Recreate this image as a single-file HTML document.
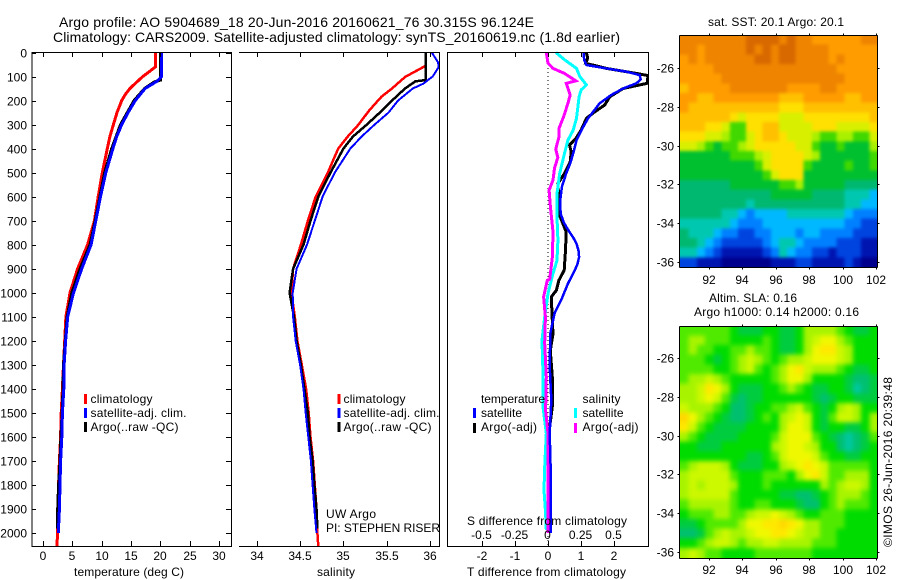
<!DOCTYPE html>
<html lang="en">
<head>
<meta charset="utf-8">
<title>Argo profile</title>
<style>
html,body{margin:0;padding:0;background:#fff;}
svg{display:block;}
text{font-family:"Liberation Sans",sans-serif;font-size:12px;fill:#000;}
.big{font-size:14px;}
</style>
</head>
<body>
<svg id="chart" xmlns="http://www.w3.org/2000/svg" width="900" height="580" viewBox="0 0 900 580">
<defs>
<clipPath id="clipT"><rect x="32" y="40" width="199" height="506"/></clipPath>
<clipPath id="clipS"><rect x="239" y="40" width="200" height="506"/></clipPath>
<clipPath id="clipD"><rect x="447" y="40" width="201" height="506"/></clipPath>
<clipPath id="clipSst"><rect x="680" y="35" width="198" height="232"/></clipPath>
<clipPath id="clipSla"><rect x="680" y="326" width="198" height="232"/></clipPath>
<filter id="blurSst" filterUnits="userSpaceOnUse" x="640" y="0" width="260" height="300" color-interpolation-filters="sRGB"><feGaussianBlur stdDeviation="1.5"/></filter>
<filter id="blurSla" filterUnits="userSpaceOnUse" x="640" y="290" width="260" height="290" color-interpolation-filters="sRGB"><feGaussianBlur stdDeviation="2.5"/></filter>
</defs>
<text class="big" x="59" y="27" textLength="475">Argo profile: AO 5904689_18 20-Jun-2016 20160621_76 30.315S 96.124E</text>
<text class="big" x="53" y="42" textLength="567">Climatology: CARS2009. Satellite-adjusted climatology: synTS_20160619.nc (1.8d earlier)</text>
<text x="708" y="26" textLength="136">sat. SST: 20.1 Argo: 20.1</text>
<text x="709" y="302" textLength="88">Altim. SLA: 0.16</text>
<text x="694" y="316" textLength="165">Argo h1000: 0.14 h2000: 0.16</text>
<text transform="translate(892,547) rotate(-90)" textLength="170">©IMOS 26-Jun-2016 20:39:48</text>
<text x="74" y="576" textLength="110">temperature (deg C)</text>
<text x="317" y="576" textLength="38">salinity</text>
<text x="467" y="576" textLength="159">T difference from climatology</text>
<g id="maps"></g>
<g id="curves"></g>
<g id="axes"></g>
<text x="467" y="525" textLength="160">S difference from climatology</text>
<text x="326" y="518" textLength="50">UW Argo</text>
<text x="326" y="532" textLength="114">PI: STEPHEN RISER</text>
<g id="legends">
<rect x="84" y="394" width="3" height="10" fill="#f00"/>
<rect x="84" y="408" width="3" height="10" fill="#00f"/>
<rect x="84" y="422" width="3" height="10" fill="#000"/>
<text x="90.5" y="403" textLength="62">climatology</text>
<text x="90.5" y="417" textLength="96">satellite-adj. clim.</text>
<text x="90.5" y="431" textLength="88">Argo(..raw -QC)</text>
<rect x="337.5" y="394" width="3" height="10" fill="#f00"/>
<rect x="337.5" y="408" width="3" height="10" fill="#00f"/>
<rect x="337.5" y="422" width="3" height="10" fill="#000"/>
<text x="343.5" y="403" textLength="62">climatology</text>
<text x="343.5" y="417" textLength="96">satellite-adj. clim.</text>
<text x="343.5" y="431" textLength="88">Argo(..raw -QC)</text>
<text x="481" y="403" textLength="64">temperature</text>
<text x="582.5" y="403" textLength="38">salinity</text>
<rect x="473" y="408" width="3" height="10" fill="#00f"/>
<rect x="473" y="423" width="3" height="10" fill="#000"/>
<rect x="574" y="408" width="3" height="10" fill="#0ff"/>
<rect x="574" y="423" width="3" height="10" fill="#f0f"/>
<text x="481" y="417" textLength="41">satellite</text>
<text x="481" y="431" textLength="56">Argo(-adj)</text>
<text x="582.5" y="417" textLength="41">satellite</text>
<text x="582.5" y="431" textLength="56">Argo(-adj)</text>
</g>
</svg>
<script>
// ---- tick labels ----
const depthTicks = [0,100,200,300,400,500,600,700,800,900,1000,1100,1200,1300,1400,1500,1600,1700,1800,1900,2000];
const tempTicks = [0,5,10,15,20,25,30];
const salTicks = [34,34.5,35,35.5,36];
const tDiffTicks = [-2,-1,0,1,2];
const sDiffTicks = [-0.5,-0.25,0,0.25,0.5];
const lonTicks = [92,94,96,98,100,102];
const latTicks = [-26,-28,-30,-32,-34,-36];

// ---- temperature profiles ----
const tempClimDepth = [0,59,80,100,125,150,175,200,250,300,350,400,500,600,700,800,900,1000,1100,1200,1300,1400,1500,1600,1700,1800,1900,2000,2055];
const tempClim = [19.2,19.2,18.1,17.0,15.9,14.8,14.0,13.4,12.6,12.0,11.4,10.95,10.1,9.4,8.75,7.6,5.9,4.6,3.9,3.7,3.5,3.3,3.1,3.0,2.8,2.65,2.55,2.45,2.4];
const tempArgoDepth = [0,115,122,150,200,300,400,500,600,700,800,900,1000,1100,1200,1300,1400,1500,1600,1700,1800,1900,1980];
const tempArgo = [20.0,20.0,19.0,17.3,15.5,13.2,11.7,10.5,9.7,8.9,8.0,6.3,4.9,4.1,3.8,3.5,3.4,3.25,3.05,2.9,2.65,2.5,2.5];
const tempSatDepth = [0,100,120,150,200,250,300,350,400,500,600,700,800,900,1000,1100,1200,1300,1400,1500,1600,1700,1800,1900,2000];
const tempSat = [20.2,20.2,19.4,17.4,15.7,14.5,13.4,12.55,11.9,10.7,9.8,9.0,8.2,6.6,5.2,4.2,3.85,3.6,3.55,3.3,3.2,3.0,2.9,2.8,2.6];

// ---- salinity profiles ----
const salClimDepth = [0,55,102,150,184,240,302,350,400,500,600,700,800,900,1000,1100,1200,1300,1400,1500,1600,1700,1800,1900,2000,2055];
const salClim = [35.95,35.95,35.71,35.56,35.44,35.3,35.17,35.05,34.94,34.82,34.68,34.59,34.51,34.42,34.40,34.44,34.47,34.52,34.57,34.6,34.62,34.65,34.67,34.69,34.70,34.71];
const salArgoDepth = [0,115,120,150,200,250,300,350,400,500,600,700,800,900,1000,1100,1200,1300,1400,1500,1600,1700,1800,1900,1980];
const salArgo = [35.95,35.95,35.83,35.71,35.56,35.42,35.27,35.11,35.0,34.85,34.71,34.62,34.54,34.42,34.38,34.43,34.46,34.51,34.55,34.59,34.61,34.645,34.665,34.69,34.7];
const salSatDepth = [0,40,60,100,130,150,200,250,300,350,400,500,600,700,800,900,1000,1100,1200,1300,1400,1500,1600,1700,1800,1900,2000];
const salSat = [36.02,36.09,36.1,36.03,35.92,35.8,35.63,35.52,35.36,35.21,35.08,34.9,34.76,34.67,34.58,34.46,34.415,34.42,34.45,34.5,34.54,34.565,34.595,34.625,34.645,34.665,34.69];

// ---- difference profiles (T in deg C, S in psu) ----
const dTSatDepth = [0,30,52,66,80,94,112,128,150,177,212,274,316,365,420,462,503,559,615,670,705,725,747,770,795,825,851,880,906,962,1030,1085,1169,1308,1446,1585,1724,1863,2000];
const dTSat = [1.08,1.09,1.16,1.76,2.37,2.77,2.8,2.67,2.27,1.91,1.56,1.21,1.04,0.86,0.76,0.67,0.55,0.42,0.37,0.38,0.47,0.55,0.65,0.76,0.86,0.92,0.94,0.89,0.81,0.6,0.4,0.2,0.07,0.05,0.1,0.05,0.08,0.08,0.08];
const dTArgoDepth = [0,24,45,66,87,96,128,150,184,219,247,274,323,358,385,413,455,503,545,615,684,747,823,906,948,990,1017,1115,1170,1240,1350,1474,1558,2000];
const dTArgo = [1.16,1.2,1.14,1.76,2.67,3.02,3.0,2.27,1.87,1.71,1.41,1.16,1.0,0.84,0.65,0.7,0.67,0.5,0.3,0.33,0.37,0.55,0.53,0.49,0.33,0.25,0.1,0.13,0.15,0.07,0.13,0.13,0.05,0.05];
const dSSatDepth = [0,30,66,100,135,156,184,274,323,365,420,503,587,684,781,865,920,1003,1100,1197,1336,1474,1585,1724,1821,1918,1988];
const dSSat = [0.06,0.125,0.215,0.24,0.29,0.25,0.235,0.215,0.19,0.15,0.125,0.088,0.068,0.068,0.075,0.068,0.038,0,-0.025,-0.045,-0.038,-0.038,-0.013,-0.025,-0.03,-0.018,-0.013];
const dSArgoDepth = [0,45,66,87,118,128,177,212,267,316,351,403,437,479,531,573,642,746,850,944,948,1017,1100,1210,1350,1490,1585,2000];
const dSArgo = [-0.013,0,0.038,0.125,0.21,0.138,0.168,0.15,0.118,0.083,0.083,0.058,0.075,0.05,0.038,0.008,0.018,0.038,0.033,0.013,-0.005,-0.033,-0.02,-0.025,-0.013,-0.018,0,0];

// ---- map grids (colour-level per cell, rows north to south) ----
const sstLevels = [
[14,14,14,14,14,14,14,14,15,15,15,15,14,15,14,14,13,13,13,13,13,13,14,14],
[14,14,13,14,14,14,14,14,15,14,15,14,15,15,14,14,14,14,13,13,13,13,13,13],
[13,14,13,14,14,14,14,14,14,15,15,14,15,15,14,14,14,14,13,14,13,13,13,13],
[13,13,13,13,14,14,14,14,14,14,14,14,14,14,14,14,14,14,14,13,13,13,13,13],
[13,13,13,13,13,14,14,14,14,14,14,14,14,14,14,14,14,14,14,14,13,13,13,13],
[12,13,13,13,13,13,14,14,14,14,14,14,14,13,13,13,13,14,14,13,13,13,13,13],
[13,13,12,12,13,13,13,13,13,13,13,13,12,12,12,13,13,13,13,13,12,12,13,13],
[13,12,12,12,12,12,12,12,12,12,12,12,11,11,11,12,12,12,12,12,12,12,12,12],
[12,12,12,12,12,12,11,10,11,11,11,11,10,10,10,11,11,11,11,11,11,11,11,12],
[12,12,12,11,11,10,8,8,11,11,12,12,10,10,10,10,11,11,11,10,10,10,10,11],
[11,11,11,10,10,9,8,8,10,11,12,12,11,10,10,10,9,8,8,9,9,8,8,10],
[10,10,9,8,7,8,8,9,10,11,11,11,11,11,10,10,8,7,7,8,7,7,7,9],
[7,7,7,7,7,7,8,8,8,9,10,11,11,11,11,10,9,7,7,7,7,7,7,8],
[7,7,7,7,7,7,7,7,7,8,10,11,11,11,11,8,7,7,7,7,8,7,7,8],
[7,7,7,7,7,7,7,7,7,7,8,10,11,11,11,7,7,7,7,7,7,7,7,7],
[6,6,6,6,6,6,7,7,7,7,7,7,8,8,9,7,7,7,7,7,6,6,6,6],
[6,6,6,6,6,6,6,6,6,6,6,7,7,7,7,7,6,6,6,6,5,5,5,4],
[6,6,6,6,6,6,6,6,5,6,6,6,6,6,6,6,6,6,6,6,5,5,4,4],
[6,6,6,6,6,5,5,4,3,4,4,4,4,5,5,5,5,5,5,5,4,3,3,3],
[5,5,5,5,5,5,4,3,3,3,4,4,4,4,4,4,4,4,4,4,3,3,2,2],
[6,5,5,5,4,3,3,2,2,3,3,4,4,4,3,4,4,3,3,3,3,2,2,2],
[6,6,5,4,3,2,2,2,2,2,3,4,5,5,4,3,3,3,3,2,2,2,1,1],
[5,5,4,3,2,1,1,1,1,1,2,3,5,4,3,3,2,2,1,2,2,2,1,1],
[2,2,1,1,1,0,0,0,0,0,0,1,1,1,2,2,1,1,1,1,2,1,0,0]
];
const slaLevels = [
[4,4,4,4,4,4,3,2,2,2,3,3,2,2,3,5,5,5,5,4,3,2,2,3],
[4,5,5,4,4,4,3,3,3,3,4,3,2,2,3,5,6,7,7,5,4,3,3,3],
[4,5,4,4,3,3,4,4,5,4,4,3,2,2,3,5,7,8,8,6,5,3,3,3],
[4,4,4,3,2,3,4,5,6,5,4,3,4,5,5,6,7,7,7,6,5,3,3,3],
[4,4,4,4,3,3,4,5,6,4,3,4,5,7,8,6,5,5,5,4,3,2,2,3],
[4,5,5,6,5,4,3,3,3,3,3,4,5,7,7,5,3,3,3,3,2,1,1,2],
[5,5,6,8,7,5,3,2,2,2,3,3,4,5,4,3,2,2,3,3,2,0,1,2],
[5,5,6,7,6,4,2,1,2,2,3,3,3,3,3,3,2,1,2,3,3,2,2,2],
[6,5,5,5,4,3,1,1,2,3,3,4,4,5,6,4,3,2,3,5,6,5,3,3],
[9,7,5,4,3,2,1,1,2,3,4,3,5,6,7,6,3,2,4,6,6,5,3,5],
[8,6,4,3,2,2,2,2,3,3,3,3,5,7,7,6,3,2,3,3,2,2,3,5],
[5,4,3,2,2,2,2,3,3,3,3,4,6,7,7,7,4,3,2,1,0,1,2,4],
[3,3,2,2,2,3,3,3,3,3,3,5,6,7,7,6,5,3,3,1,0,1,2,3],
[3,3,3,3,3,3,3,3,2,2,3,4,6,7,7,7,6,4,3,3,2,2,3,3],
[4,5,6,6,6,5,3,2,2,2,3,3,5,6,7,8,7,6,4,4,4,4,4,3],
[5,6,6,6,6,6,4,3,3,3,4,4,4,3,5,7,8,6,4,4,5,5,5,3],
[5,6,5,6,6,6,5,3,3,3,4,3,3,3,3,3,3,5,4,5,6,6,5,3],
[5,6,6,6,6,6,4,3,3,3,3,3,2,2,1,1,2,3,4,5,5,5,4,3],
[4,5,5,5,5,5,4,3,3,4,4,3,3,3,2,1,1,3,4,5,4,4,4,3],
[3,4,4,4,5,5,4,4,5,6,6,7,6,5,4,3,3,4,4,4,3,3,3,3],
[2,2,3,4,4,4,4,5,7,7,8,8,9,8,7,5,5,4,4,4,3,3,3,3],
[1,1,2,4,5,6,5,5,6,7,7,8,8,7,6,5,5,4,4,3,3,3,3,3],
[3,3,4,5,6,6,5,4,5,5,6,6,5,5,5,5,4,4,4,3,3,3,3,3],
[5,6,5,4,4,3,3,3,3,4,4,4,4,4,4,4,3,3,3,3,3,3,3,3]
];
const sstPalette = ["#00008c","#0014b0","#0044e0","#0080ff","#00b8ff","#00c8b0","#00b870","#00c030","#40d800","#a8f000","#d8f000","#ffe000","#ffc000","#ff9c00","#ee8400","#d86800"];
const slaPalette = ["#00c8a0","#00c070","#00cc40","#00dc00","#50ea00","#a8f400","#ccf800","#f0f800","#ffe800","#ffd800"];

const SVGNS = "http://www.w3.org/2000/svg";
const axesG = document.getElementById("axes");
const curvesG = document.getElementById("curves");
const mapsG = document.getElementById("maps");

function create(tag, parent, attrs) {
  const el = document.createElementNS(SVGNS, tag);
  for (const k in attrs) el.setAttribute(k, attrs[k]);
  parent.appendChild(el);
  return el;
}

// axis functions
const yDepth = d => 52.5 + 0.2403 * d;
const xTemp = t => 43 + 5.87 * t;
const xSal = s => 256.7 + 86.7 * (s - 34);
const xDT = t => 548 + 33.1 * t;
const xDS = s => 548 + 132.4 * s;
const xLon = lon => 708.7 + 16.73 * (lon - 92);
const yLatTop = lat => 68.3 + 19.33 * (-26 - lat);
const yLatBot = lat => 358.3 + 19.33 * (-26 - lat);

function drawCurve(depths, values, xFn, color, width, clip, name) {
  const pts = depths.map((d, i) => xFn(values[i]).toFixed(1) + "," + yDepth(d).toFixed(1)).join(" ");
  const line = create("polyline", curvesG, {points: pts, fill: "none", stroke: color, "stroke-width": width, "clip-path": "url(#" + clip + ")", "shape-rendering": "crispEdges", "stroke-linejoin": "miter"});
  
  
}

function axisLine(x1, y1, x2, y2, name) {
  const l = create("line", axesG, {x1: x1, y1: y1, x2: x2, y2: y2, stroke: "#000", "stroke-width": 1, "shape-rendering": "crispEdges"});
  
  
}

function label(x, y, str, anchor, name) {
  const t = create("text", axesG, {x: x, y: y, "text-anchor": anchor});
  t.textContent = str;
  
  
}

function drawMap(levels, palette, left, right, top, bottom, clip, filter, name) {
  const rows = levels.length, cols = levels[0].length;
  const w = (right - left) / cols, h = (bottom - top) / rows;
  const outer = create("g", mapsG, {"clip-path": "url(#" + clip + ")"});
  
  
  const g = create("g", outer, {filter: "url(#" + filter + ")"});
  
  
  const pad = 14;
  levels.forEach((row, r) => row.forEach((v, c) => {
    const x0 = left + c * w - (c === 0 ? pad : 0);
    const y0 = top + r * h - (r === 0 ? pad : 0);
    const x1 = left + (c + 1) * w + (c === cols - 1 ? pad : 0.5);
    const y1 = top + (r + 1) * h + (r === rows - 1 ? pad : 0.5);
    const cell = create("rect", g, {x: x0.toFixed(2), y: y0.toFixed(2), width: (x1 - x0).toFixed(2), height: (y1 - y0).toFixed(2), fill: palette[v], "shape-rendering": "crispEdges"});
    
    
  }));
}

// ---- curves ----
drawCurve(tempClimDepth, tempClim, xTemp, "#f00", 3, "clipT", "temperature-climatology-line");
drawCurve(tempArgoDepth, tempArgo, xTemp, "#000", 3, "clipT", "temperature-argo-line");
drawCurve(tempSatDepth, tempSat, xTemp, "#00f", 3, "clipT", "temperature-satellite-line");
drawCurve(salClimDepth, salClim, xSal, "#f00", 2.5, "clipS", "salinity-climatology-line");
drawCurve(salArgoDepth, salArgo, xSal, "#000", 2.5, "clipS", "salinity-argo-line");
drawCurve(salSatDepth, salSat, xSal, "#00f", 2, "clipS", "salinity-satellite-line");

const zeroLine = create("line", curvesG, {x1: xDT(0), y1: 52, x2: xDT(0), y2: 546, stroke: "#000", "stroke-width": 1, "stroke-dasharray": "1 3", "shape-rendering": "crispEdges"});



drawCurve(dTArgoDepth, dTArgo, xDT, "#000", 3, "clipD", "t-difference-argo-line");
drawCurve(dSSatDepth, dSSat, xDS, "#0ff", 3, "clipD", "s-difference-satellite-line");
drawCurve(dSArgoDepth, dSArgo, xDS, "#f0f", 3, "clipD", "s-difference-argo-line");
drawCurve(dTSatDepth, dTSat, xDT, "#00f", 2.5, "clipD", "t-difference-satellite-line");

// ---- panel frames ----
axisLine(32, 52.5, 231, 52.5, "temperature-panel-top");
axisLine(32, 546.5, 231, 546.5, "temperature-panel-bottom");
axisLine(32, 52, 32, 547, "depth-axis");
axisLine(231.5, 52, 231.5, 547, "temperature-panel-right");
axisLine(239, 52.5, 439, 52.5, "salinity-panel-top");
axisLine(239, 546.5, 439, 546.5, "salinity-panel-bottom");
axisLine(439.5, 52, 439.5, 547, "salinity-panel-right");
axisLine(447, 52.5, 648, 52.5, "difference-panel-top");
axisLine(447, 546.5, 648, 546.5, "difference-panel-bottom");
axisLine(447.5, 52, 447.5, 547, "difference-panel-left");
axisLine(648.5, 52, 648.5, 547, "difference-panel-right");

// ---- depth ticks ----
depthTicks.forEach(d => {
  const y = Math.round(yDepth(d)) + 0.5;
  axisLine(32, y, 36, y, "depth-tick-left");
  axisLine(226, y, 231, y, "depth-tick-right");
  label(27, y + 4, String(d), "end", "depth-tick-label");
});

// ---- temperature ticks ----
tempTicks.forEach(t => {
  const x = Math.round(xTemp(t)) + 0.5;
  axisLine(x, 52, x, 57, "temperature-tick-top");
  axisLine(x, 541, x, 546, "temperature-tick-bottom");
  label(x - 0.5, 560, String(t), "middle", "temperature-tick-label");
});

// ---- salinity ticks ----
salTicks.forEach(s => {
  const x = Math.round(xSal(s)) + 0.5;
  axisLine(x, 52, x, 57, "salinity-tick-top");
  axisLine(x, 541, x, 546, "salinity-tick-bottom");
  label(x - 0.5, 560, String(s), "middle", "salinity-tick-label");
});

// ---- difference ticks ----
tDiffTicks.forEach(t => {
  const x = Math.round(xDT(t)) + 0.5;
  axisLine(x, 541, x, 546, "t-difference-tick");
  label(x - 0.5, 560, String(t), "middle", "t-difference-tick-label");
});
sDiffTicks.forEach(s => {
  const x = Math.round(xDS(s)) + 0.5;
  axisLine(x, 52, x, 57, "s-difference-tick");
  label(x - 1, 539, String(s), "middle", "s-difference-tick-label");
});

// ---- maps ----
drawMap(sstLevels, sstPalette, 680.5, 877.5, 35, 267, "clipSst", "blurSst", "sst-heatmap");
drawMap(slaLevels, slaPalette, 680.5, 877.5, 325.7, 557.7, "clipSla", "blurSla", "sla-heatmap");

[[35, 267, yLatTop, 284, "sst"], [325.5, 557.5, yLatBot, 574, "sla"]].forEach(m => {
  const top = Math.round(m[0]) + 0.5, bot = Math.round(m[1]) + 0.5;
  axisLine(679.5, top, 877.5, top, m[4] + "-map-top");
  axisLine(679.5, bot, 877.5, bot, m[4] + "-map-bottom");
  axisLine(679.5, top, 679.5, bot, m[4] + "-map-left");
  axisLine(877.5, top, 877.5, bot, m[4] + "-map-right");
  lonTicks.forEach(lon => {
    const x = Math.round(xLon(lon)) + 0.5;
    axisLine(x, top - 2, x, top, m[4] + "-lon-tick-top");
    axisLine(x, bot, x, bot + 2, m[4] + "-lon-tick-bottom");
    label(x - 0.5, m[3], String(lon), "middle", m[4] + "-lon-tick-label");
  });
  latTicks.forEach(lat => {
    const y = Math.round(m[2](lat)) + 0.5;
    axisLine(677.5, y, 679.5, y, m[4] + "-lat-tick-left");
    axisLine(877.5, y, 879.5, y, m[4] + "-lat-tick-right");
    label(674, y + 4, String(lat), "end", m[4] + "-lat-tick-label");
  });
});
</script>
</body>
</html>
